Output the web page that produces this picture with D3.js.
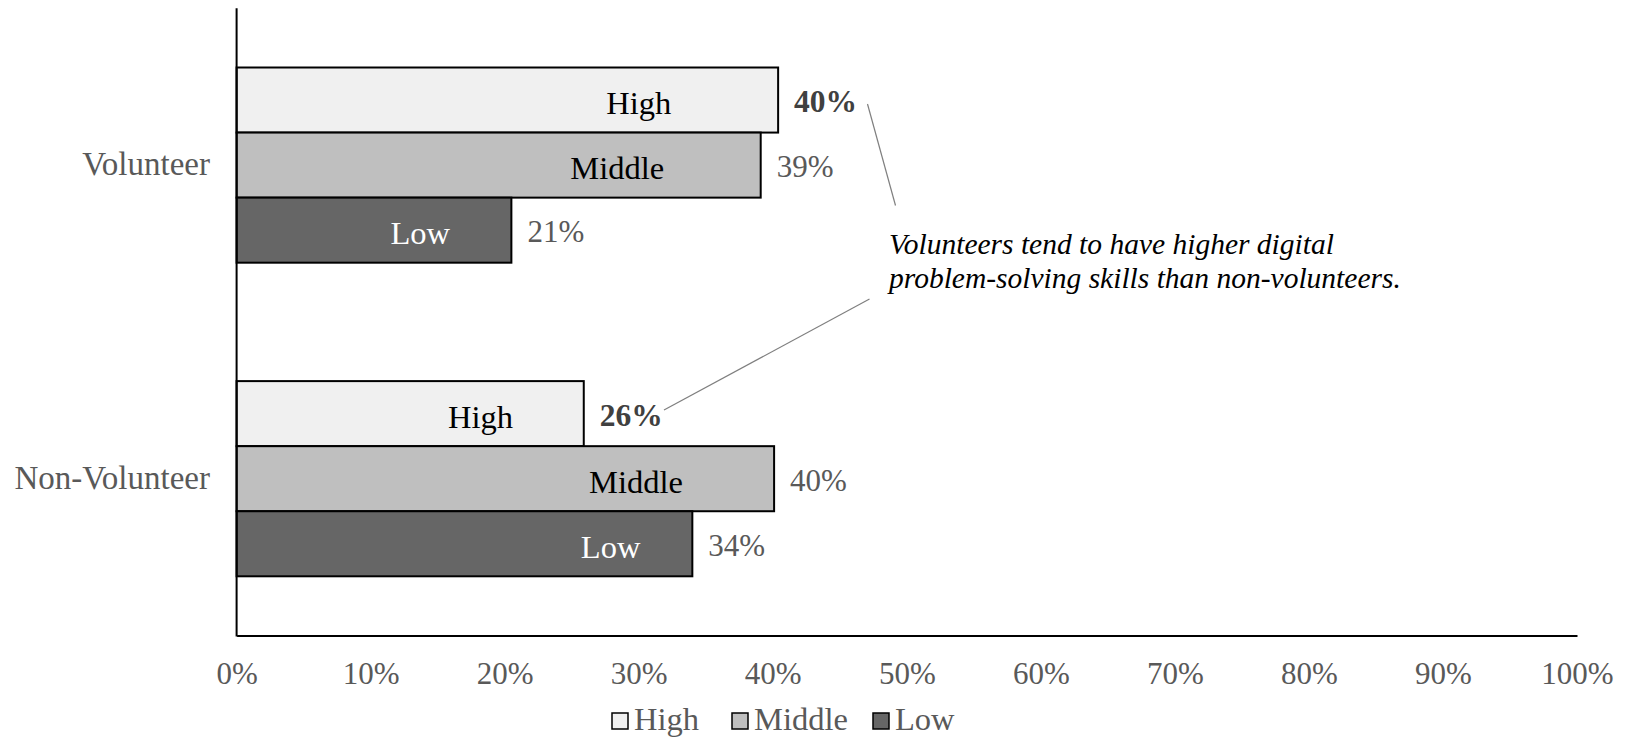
<!DOCTYPE html>
<html lang="en">
<head>
    <meta charset="UTF-8">
    <title>D3 - Volunteers skills</title>
    <script src="https://d3js.org/d3.v7.min.js"></script>
    <style>
        body{
            margin: 0;
            background-color: white;
        }
        svg text{
            font-family: "Liberation Serif", "Times New Roman", serif;
        }
        .cat{
            font-size: 33px;
            fill: #595959;
        }
        .tick text{
            font-size: 31px;
            fill: #595959;
        }
        .inner{
            font-size: 32.5px;
        }
        .val{
            font-size: 31px;
            fill: #595959;
        }
        .val.bold{
            font-weight: bold;
            font-size: 31.5px;
            fill: #404040;
        }
        .note{
            font-size: 29.5px;
            font-style: italic;
            fill: black;
        }
        .legend text{
            font-size: 32.5px;
            fill: #595959;
        }
    </style>
</head>
<body>
<svg id="canvas" width="1627" height="740"></svg>
<script>
    // data (percent)
    let groups = ["Volunteer", "Non-Volunteer"];
    let levels = ["High", "Middle", "Low"];
    let volunteer = [40.4, 39.1, 20.5];
    let nonVolunteer = [25.9, 40.1, 34.0];
    // where the level names sit inside each bar (percent on the x axis)
    let volunteerNameAt = [30.0, 28.4, 13.7];
    let nonVolunteerNameAt = [18.2, 29.8, 27.9];
    let xTicks = [0, 10, 20, 30, 40, 50, 60, 70, 80, 90, 100];
    let note = ["Volunteers tend to have higher digital",
                "problem-solving skills than non-volunteers."];

    let fills = {High: "#f0f0f0", Middle: "#bfbfbf", Low: "#666666"};
    let nameColor = {High: "black", Middle: "black", Low: "white"};

    let rows = [];
    groups.forEach(function (g, gi) {
        let vals = gi === 0 ? volunteer : nonVolunteer;
        let at = gi === 0 ? volunteerNameAt : nonVolunteerNameAt;
        levels.forEach(function (l, li) {
            rows.push({group: g, level: l, value: vals[li], nameAt: at[li]});
        });
    });

    let svg = d3.select('svg');

    let x = d3.scaleLinear().domain([0, 100]).range([236.6, 1577]);
    let y0 = d3.scaleBand().domain(groups).range([8.3, 635.5]);
    let y1 = d3.scaleBand().domain(levels)
        .range([0, y0.bandwidth()])
        .paddingInner(0).paddingOuter(0.91);

    // x axis
    let xAxis = svg.append('g')
        .attr("transform", "translate(0," + 635.5 + ")")
        .call(d3.axisBottom(x).tickValues(xTicks).tickSize(0).tickPadding(26)
            .tickFormat(function (d) { return d + "%"; }));
    xAxis.select(".domain").attr("stroke", "black").attr("stroke-width", 2);

    // category labels
    svg.selectAll("text.cat")
        .data(groups)
        .enter()
        .append("text")
        .attr("class", "cat")
        .attr("x", 210)
        .attr("y", function (d) { return y0(d) + y0.bandwidth() / 2 + 10; })
        .attr("text-anchor", "end")
        .text(function (d) { return d; });

    // bars
    svg.selectAll("rect.bar")
        .data(rows)
        .enter()
        .append("rect")
        .attr("class", "bar")
        .attr("x", x(0))
        .attr("y", function (d) { return y0(d.group) + y1(d.level); })
        .attr("width", function (d) { return x(d.value) - x(0); })
        .attr("height", y1.bandwidth())
        .attr("fill", function (d) { return fills[d.level]; })
        .attr("stroke", "black")
        .attr("stroke-width", 2);

    // level names inside the bars
    svg.selectAll("text.inner")
        .data(rows)
        .enter()
        .append("text")
        .attr("class", "inner")
        .attr("x", function (d) { return x(d.nameAt); })
        .attr("y", function (d) { return y0(d.group) + y1(d.level) + y1.bandwidth() / 2 + 14; })
        .attr("text-anchor", "middle")
        .attr("fill", function (d) { return nameColor[d.level]; })
        .text(function (d) { return d.level; });

    // value labels
    svg.selectAll("text.val")
        .data(rows)
        .enter()
        .append("text")
        .attr("class", function (d) { return d.level === "High" ? "val bold" : "val"; })
        .attr("x", function (d) { return x(d.value) + 16; })
        .attr("y", function (d) { return y0(d.group) + y1(d.level) + y1.bandwidth() / 2 + 12; })
        .text(function (d) { return Math.round(d.value) + "%"; });

    // y axis line
    svg.append("line")
        .attr("x1", x(0)).attr("x2", x(0))
        .attr("y1", 8.3).attr("y2", 636.5)
        .attr("stroke", "black").attr("stroke-width", 2);

    // note with leader lines
    svg.selectAll("text.note")
        .data(note)
        .enter()
        .append("text")
        .attr("class", "note")
        .attr("x", 889)
        .attr("y", function (d, i) { return 254 + i * 34; })
        .text(function (d) { return d; });

    svg.append("line")
        .attr("x1", 867.5).attr("y1", 104)
        .attr("x2", 895.5).attr("y2", 205.5)
        .attr("stroke", "#7f7f7f").attr("stroke-width", 1.2);
    svg.append("line")
        .attr("x1", 869.5).attr("y1", 299)
        .attr("x2", 664).attr("y2", 410)
        .attr("stroke", "#7f7f7f").attr("stroke-width", 1.2);

    // legend
    let legendX = [612, 732, 873];
    let legend = svg.append("g").attr("class", "legend");
    let item = legend.selectAll("g")
        .data(levels)
        .enter()
        .append("g")
        .attr("transform", function (d, i) { return "translate(" + legendX[i] + ",713)"; });
    item.append("rect")
        .attr("width", 16).attr("height", 16)
        .attr("fill", function (d) { return fills[d]; })
        .attr("stroke", "black").attr("stroke-width", 1.5);
    item.append("text")
        .attr("x", 22)
        .attr("y", 17)
        .text(function (d) { return d; });
</script>
</body>
</html>
